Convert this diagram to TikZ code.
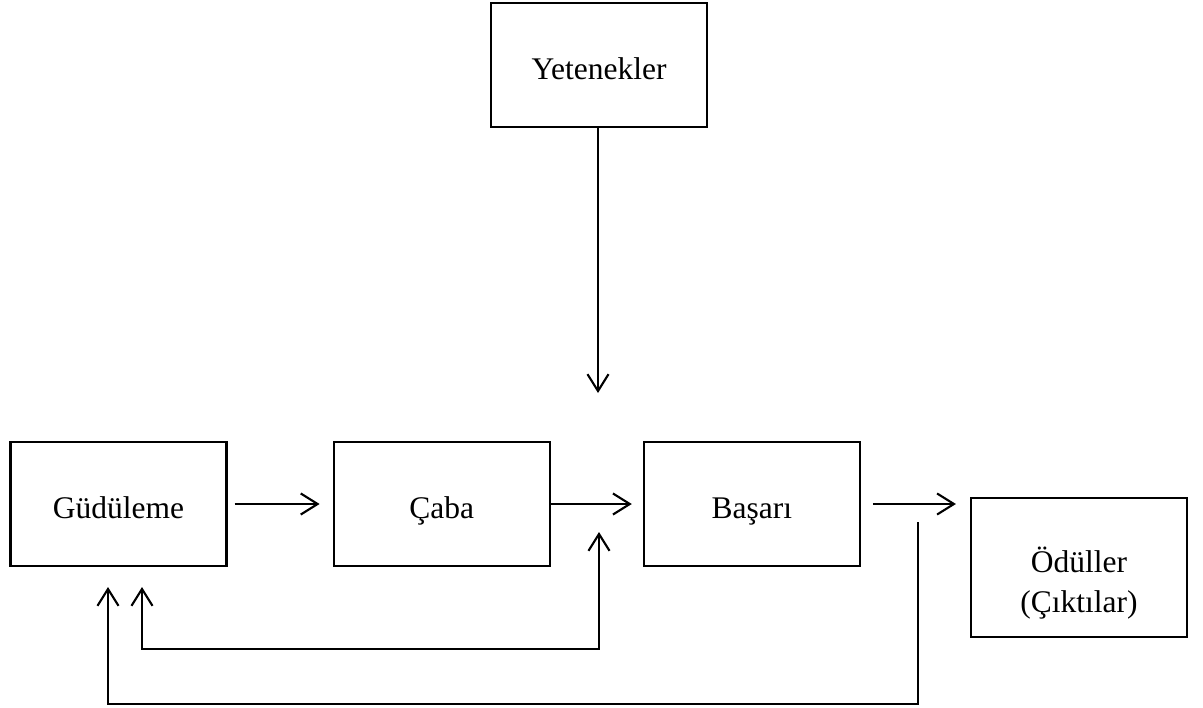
\documentclass[tikz,border=0pt]{standalone}
\usepackage{fontspec}
\setmainfont{Liberation Serif}
\usetikzlibrary{positioning,calc,arrows.meta}

\begin{document}
\begin{tikzpicture}[x=0.025cm,y=-0.025cm,>={Straight Barb[length=12pt,width=15pt]},line width=1.5pt,
box node/.style={rectangle,draw,font=\fontsize{22.4}{28.5}\selectfont,minimum width=5.4cm,minimum height=3.1cm,inner sep=0cm,text height=21.3pt,text depth=0pt},
wide node/.style={box node,minimum height=3.475cm,align=center,text height=70.5pt,text depth=6pt}]
\useasboundingbox (0,0) rectangle (1203,708);
% nodes
  \node[box node] (yet) at (599,65) {Yetenekler};
  \node[box node] (gud) at (118.5,504) {Güdüleme};
  \node[box node] (caba) [right = 2.625cm of gud] {Çaba};
  \node[box node] (basari) [right = 2.3cm of caba] {Başarı};
  \node[wide node] (odul) at (1079,567.5) {Ödüller\\(Çıktılar)};
  \coordinate (tip) at (598,393);
  \coordinate (in1) at (599,532);
  \coordinate (in2) at (142,587);
  \coordinate (out1) at (918,522);
  \coordinate (out2) at (108,587);
  %edges
  \draw[->] (yet.south -| tip) -- (tip);
  \draw[->,shorten <=0.175cm,shorten >=0.325cm] (gud) -- (caba);
  \draw[->,shorten >=0.275cm] (caba) -- (basari);
  \draw[->,shorten <=0.3cm,shorten >=0.35cm] (basari.east) -- (basari.east -| odul.west);
  \draw[<->] (in2) -- ++(0,62) -| (in1);
  \draw[<-] (out2) -- ++(0,117) -| (out1);
\end{tikzpicture}
\end{document}
